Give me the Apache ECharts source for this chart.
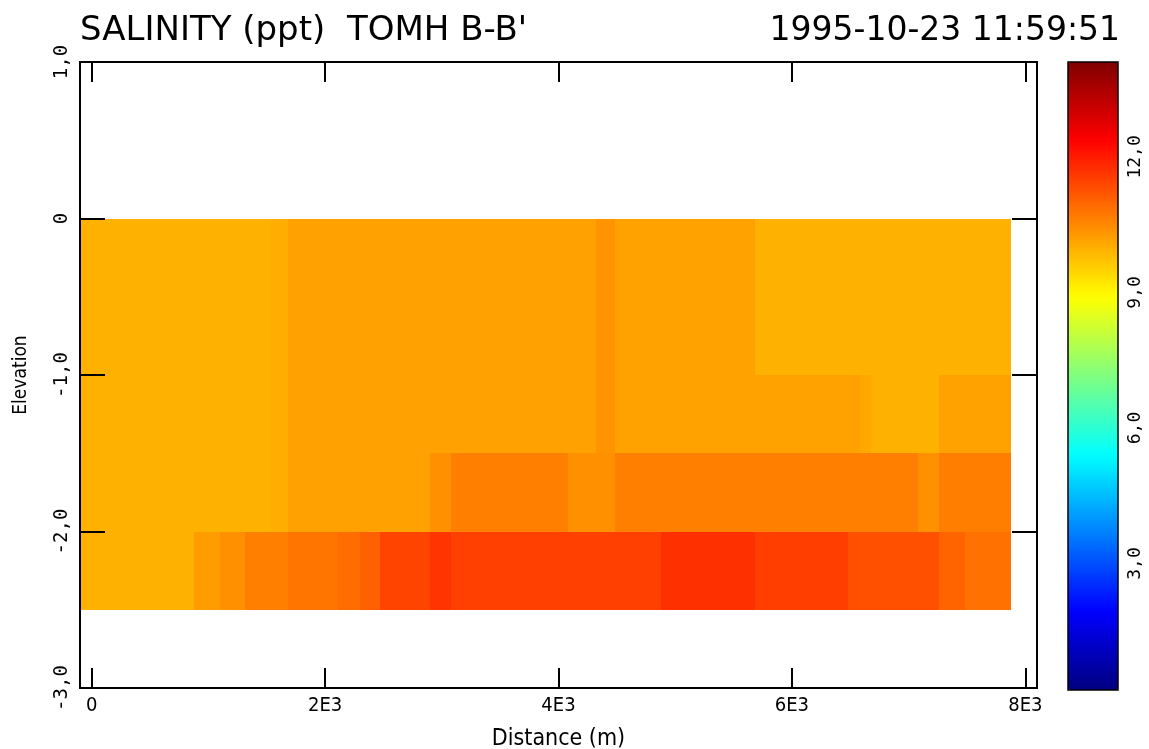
<!DOCTYPE html>
<html>
<head>
<meta charset="utf-8">
<script src="https://cdn.jsdelivr.net/npm/echarts@6/dist/echarts.min.js"></script>
<style>html,body{margin:0;padding:0;background:#fff}#c{width:1149px;height:749px}</style>
</head>
<body>
<div id="c"></div>
<script>
// ---- data ----
const distanceEdges = [-100, 880, 1100, 1310, 1540, 1680, 2110, 2300, 2470, 2900, 3080, 4080, 4320, 4480, 4880, 5680, 6480, 6580, 6680, 7080, 7260, 7480, 7880];
const elevationEdges = [0, -1.0, -1.5, -2.0, -2.5];
const layer1 = [9.96,9.96,9.96,9.96,9.99,10.18,10.18,10.18,10.18,10.18,10.18,10.18,10.35,10.16,10.16,9.96,9.96,9.96,9.96,9.96,9.96,9.96];
const layer2 = [9.96,9.96,9.96,9.96,9.99,10.18,10.18,10.18,10.18,10.18,10.18,10.18,10.35,10.16,10.16,10.16,10.16,10.08,9.96,9.96,10.16,10.16];
const layer3 = [9.96,9.96,9.96,9.96,9.99,10.18,10.18,10.18,10.18,10.40,10.62,10.40,10.40,10.62,10.62,10.62,10.62,10.62,10.62,10.40,10.65,10.65];
const layer4 = [9.96,10.24,10.40,10.62,10.62,10.78,10.89,11.05,11.44,11.66,11.49,11.49,11.49,11.49,11.71,11.52,11.27,11.27,11.27,11.27,11.00,10.83];
const xTicks = [0, 2000, 4000, 6000, 8000];
const xTickLabels = ['0', '2E3', '4E3', '6E3', '8E3'];
const colorTicks = [3, 6, 9, 12];
const colorMin = 0.2, colorMax = 14.1;
const jet = ['#000080','#0000ff','#0080ff','#00ffff','#80ff80','#ffff00','#ff8000','#ff0000','#800000'];

const layers = [layer1, layer2, layer3, layer4];
const cells = [];
layers.forEach((row, r) => {
  row.forEach((v, c) => {
    cells.push([distanceEdges[c], distanceEdges[c + 1], elevationEdges[r], elevationEdges[r + 1], v]);
  });
});

const SANS = "'DejaVu Sans',sans-serif";
const COND = "'DejaVu Sans Condensed','DejaVu Sans',sans-serif";
const MONO = "'DejaVu Sans Mono',monospace";
const fmtNum = v => (v === 0 ? '0' : v.toFixed(1).replace('.', ','));

function renderItem(params, api) {
  const p0 = api.coord([api.value(0), api.value(2)]);
  const p1 = api.coord([api.value(1), api.value(3)]);
  const x = Math.round(p0[0]), x2 = Math.round(p1[0]);
  const y = Math.round(p0[1]), y2 = Math.round(p1[1]);
  return { type: 'rect', shape: { x: x, y: y, width: x2 - x, height: y2 - y }, style: { fill: api.visual('color') } };
}

const chart = echarts.init(document.getElementById('c'), null, { renderer: 'canvas' });
const axisLine = { show: true, onZero: false, lineStyle: { color: '#000', width: 2 } };
const tickStyle = { color: '#000', width: 2 };
chart.setOption({
  animation: false,
  backgroundColor: '#fff',
  title: [
    { text: "SALINITY (ppt)  TOMH B-B'", left: 75, top: 9, textStyle: { fontFamily: SANS, fontSize: 34, fontWeight: 'normal', color: '#000' } },
    { text: '1995-10-23 11:59:51', right: 24, top: 10, textStyle: { fontFamily: SANS, fontSize: 33, fontWeight: 'normal', color: '#000' } }
  ],
  grid: [
    { left: 80, right: 112, top: 62, bottom: 61, containLabel: false, outerBoundsMode: 'none', show: true, borderColor: '#000', borderWidth: 2, z: 10, backgroundColor: 'transparent' },
    { left: 1068, width: 50, top: 62, height: 628, containLabel: false, outerBoundsMode: 'none', show: true, borderColor: '#000', borderWidth: 1.5, z: 10, backgroundColor: 'transparent' }
  ],
  xAxis: [
    { type: 'value', gridIndex: 0, position: 'bottom', min: -100, max: 8100, z: 10,
      axisLine: axisLine,
      axisTick: { show: true, inside: true, length: 20, lineStyle: tickStyle, customValues: xTicks },
      axisLabel: { show: true, customValues: xTicks, formatter: v => xTickLabels[xTicks.indexOf(v)], fontFamily: COND, fontSize: 20, color: '#000', margin: 8 },
      splitLine: { show: false },
      name: 'Distance (m)', nameLocation: 'middle', nameGap: 40, nameTextStyle: { fontFamily: COND, fontSize: 23, color: '#000' } },
    { type: 'value', gridIndex: 0, position: 'top', min: -100, max: 8100, z: 10,
      axisLine: axisLine,
      axisTick: { show: true, inside: true, length: 20, lineStyle: tickStyle, customValues: xTicks },
      axisLabel: { show: false }, splitLine: { show: false } },
    { type: 'value', gridIndex: 1, show: false, min: 0, max: 1 }
  ],
  yAxis: [
    { type: 'value', gridIndex: 0, position: 'left', min: -3, max: 1, interval: 1, z: 10,
      axisLine: axisLine,
      axisTick: { show: true, inside: true, length: 25, lineStyle: tickStyle },
      axisLabel: { show: true, rotate: 90, formatter: fmtNum, fontFamily: MONO, fontSize: 19, color: '#000', margin: 8 },
      splitLine: { show: false },
      name: 'Elevation', nameLocation: 'middle', nameGap: 49, nameRotate: 90, nameTextStyle: { fontFamily: COND, fontSize: 19, color: '#000' } },
    { type: 'value', gridIndex: 0, position: 'right', min: -3, max: 1, interval: 1, z: 10,
      axisLine: axisLine,
      axisTick: { show: true, inside: true, length: 25, lineStyle: tickStyle },
      axisLabel: { show: false }, splitLine: { show: false } },
    { type: 'value', gridIndex: 1, position: 'right', min: colorMin, max: colorMax, z: 10,
      axisLine: { show: false }, axisTick: { show: false }, splitLine: { show: false },
      axisLabel: { show: true, customValues: colorTicks, rotate: 90, formatter: fmtNum, fontFamily: MONO, fontSize: 18, color: '#000', margin: 8 } }
  ],
  visualMap: {
    type: 'continuous', min: colorMin, max: colorMax, dimension: 4, seriesIndex: 0,
    orient: 'vertical', left: 1068, top: 62, itemWidth: 50, itemHeight: 628,
    calculable: false, text: null, showLabel: false, padding: 0, hoverLink: false,
    inRange: { color: jet }
  },
  series: [{
    type: 'custom', xAxisIndex: 0, yAxisIndex: 0, renderItem: renderItem, data: cells, z: 2,
    encode: { x: [0, 1], y: [2, 3] }, clip: true, silent: true
  }]
});
</script>
</body>
</html>
